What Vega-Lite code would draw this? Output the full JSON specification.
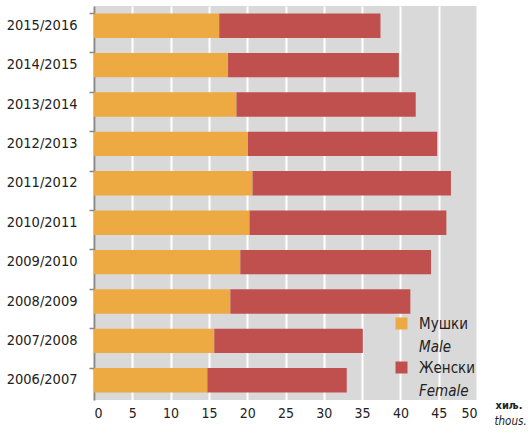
{
  "$schema": "https://vega.github.io/schema/vega-lite/v6.json",
  "width": 383,
  "height": 394,
  "autosize": {"type": "none"},
  "padding": {"left": 94, "top": 6, "right": 54, "bottom": 40},
  "background": "white",
  "config": {
    "view": {"fill": "#d9d9d9", "stroke": null},
    "font": "Liberation Sans Narrow, DejaVu Sans Condensed, sans-serif"
  },
  "data": {
    "values": [
      {"year": "2015/2016", "sex": "Мушки", "en": "Male", "value": 16.35},
      {"year": "2015/2016", "sex": "Женски", "en": "Female", "value": 21.05},
      {"year": "2014/2015", "sex": "Мушки", "en": "Male", "value": 17.5},
      {"year": "2014/2015", "sex": "Женски", "en": "Female", "value": 22.3},
      {"year": "2013/2014", "sex": "Мушки", "en": "Male", "value": 18.6},
      {"year": "2013/2014", "sex": "Женски", "en": "Female", "value": 23.4},
      {"year": "2012/2013", "sex": "Мушки", "en": "Male", "value": 20.1},
      {"year": "2012/2013", "sex": "Женски", "en": "Female", "value": 24.7},
      {"year": "2011/2012", "sex": "Мушки", "en": "Male", "value": 20.7},
      {"year": "2011/2012", "sex": "Женски", "en": "Female", "value": 25.9},
      {"year": "2010/2011", "sex": "Мушки", "en": "Male", "value": 20.3},
      {"year": "2010/2011", "sex": "Женски", "en": "Female", "value": 25.7},
      {"year": "2009/2010", "sex": "Мушки", "en": "Male", "value": 19.1},
      {"year": "2009/2010", "sex": "Женски", "en": "Female", "value": 24.9},
      {"year": "2008/2009", "sex": "Мушки", "en": "Male", "value": 17.8},
      {"year": "2008/2009", "sex": "Женски", "en": "Female", "value": 23.5},
      {"year": "2007/2008", "sex": "Мушки", "en": "Male", "value": 15.7},
      {"year": "2007/2008", "sex": "Женски", "en": "Female", "value": 19.4},
      {"year": "2006/2007", "sex": "Мушки", "en": "Male", "value": 14.8},
      {"year": "2006/2007", "sex": "Женски", "en": "Female", "value": 18.2}
    ]
  },
  "mark": {"type": "bar"},
  "encoding": {
    "y": {
      "field": "year",
      "type": "nominal",
      "sort": "descending",
      "scale": {"paddingInner": 0.38, "paddingOuter": 0.19},
      "axis": {
        "title": "thous.",
        "titleAngle": 0,
        "titleFontStyle": "italic",
        "titleFontWeight": "normal",
        "titleFontSize": 11.5,
        "titleColor": "#222",
        "titleAlign": "left",
        "titleBaseline": "middle",
        "titleX": 400,
        "titleY": 415,
        "bandPosition": 0,
        "labelFontSize": 14.5,
        "labelColor": "#222",
        "labelPadding": 12,
        "tickSize": 5,
        "tickColor": "#888",
        "tickWidth": 1.5,
        "domainColor": "#888",
        "domainWidth": 2
      }
    },
    "x": {
      "field": "value",
      "type": "quantitative",
      "stack": "zero",
      "scale": {"domain": [0, 50], "nice": false},
      "axis": {
        "values": [0, 5, 10, 15, 20, 25, 30, 35, 40, 45, 50],
        "title": "хиљ.",
        "titleFontSize": 11,
        "titleFontWeight": "bold",
        "titleColor": "#222",
        "titleAlign": "left",
        "titleBaseline": "middle",
        "titleX": 401,
        "titleY": 5,
        "domain": false,
        "ticks": false,
        "labelFontSize": 14,
        "labelColor": "#222",
        "labelPadding": 6,
        "grid": true,
        "gridColor": "white",
        "gridWidth": 2,
        "gridOpacity": 1
      }
    },
    "color": {
      "field": "sex",
      "type": "nominal",
      "scale": {"domain": ["Мушки", "Женски"], "range": ["#edaa42", "#c0504d"]},
      "legend": {
        "orient": "none",
        "legendX": 300,
        "legendY": 310,
        "title": null,
        "padding": 0,
        "symbolType": "square",
        "symbolSize": 144,
        "symbolStrokeWidth": 0,
        "labelFontSize": 15,
        "labelColor": "#222",
        "labelOffset": 10,
        "rowPadding": 28
      }
    },
    "opacity": {
      "field": "en",
      "type": "nominal",
      "scale": {"domain": ["Male", "Female"], "range": [1, 1]},
      "legend": {
        "orient": "none",
        "legendX": 300,
        "legendY": 333,
        "title": null,
        "padding": 0,
        "symbolType": "square",
        "symbolSize": 144,
        "symbolStrokeWidth": 0,
        "symbolFillColor": "transparent",
        "symbolStrokeColor": "transparent",
        "labelFontSize": 15,
        "labelFontStyle": "italic",
        "labelColor": "#222",
        "labelOffset": 10,
        "rowPadding": 28
      }
    },
    "order": {"field": "en", "sort": "descending"}
  }
}
